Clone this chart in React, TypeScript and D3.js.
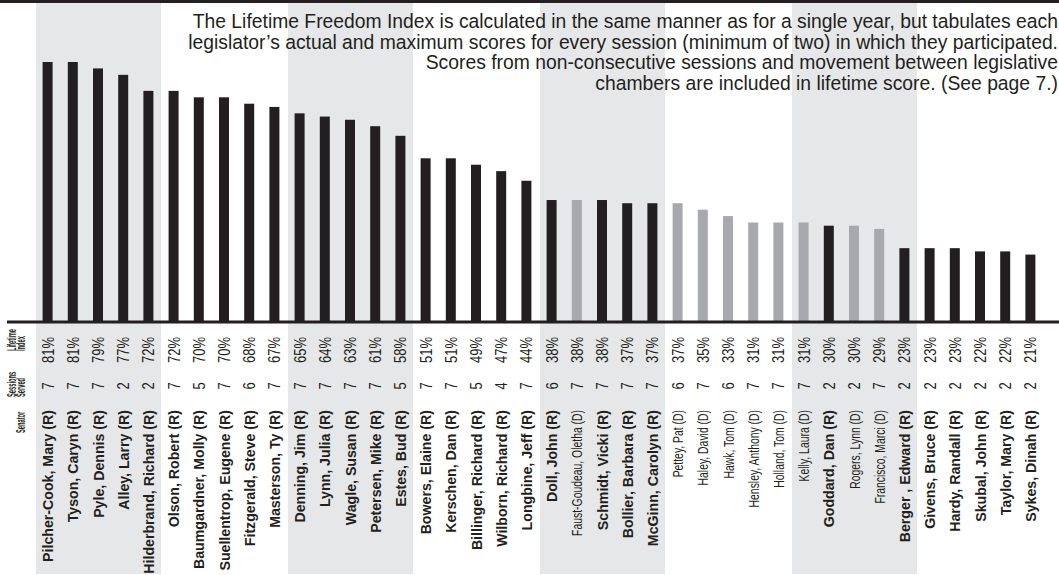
import { useEffect, useRef } from 'react'
import * as d3 from 'd3'

// senators in ranked order, as printed under the bars
const senators = [
  'Pilcher-Cook, Mary (R)', 'Tyson, Caryn (R)', 'Pyle, Dennis (R)', 'Alley, Larry (R)', 'Hilderbrand, Richard (R)',
  'Olson, Robert (R)', 'Baumgardner, Molly (R)', 'Suellentrop, Eugene (R)', 'Fitzgerald, Steve (R)', 'Masterson, Ty (R)',
  'Denning, Jim (R)', 'Lynn, Julia (R)', 'Wagle, Susan (R)', 'Petersen, Mike (R)', 'Estes, Bud (R)',
  'Bowers, Elaine (R)', 'Kerschen, Dan (R)', 'Billinger, Richard (R)', 'Wilborn, Richard (R)', 'Longbine, Jeff (R)',
  'Doll, John (R)', 'Faust-Goudeau, Oletha (D)', 'Schmidt, Vicki (R)', 'Bollier, Barbara (R)', 'McGinn, Carolyn (R)',
  'Pettey, Pat (D)', 'Haley, David (D)', 'Hawk, Tom (D)', 'Hensley, Anthony (D)', 'Holland, Tom (D)',
  'Kelly, Laura (D)', 'Goddard, Dan (R)', 'Rogers, Lynn (D)', 'Francisco, Marci (D)', 'Berger , Edward (R)',
  'Givens, Bruce (R)', 'Hardy, Randall (R)', 'Skubal, John (R)', 'Taylor, Mary (R)', 'Sykes, Dinah (R)',
]
const parties = [
  'R', 'R', 'R', 'R', 'R', 'R', 'R', 'R', 'R', 'R',
  'R', 'R', 'R', 'R', 'R', 'R', 'R', 'R', 'R', 'R',
  'R', 'D', 'R', 'R', 'R', 'D', 'D', 'D', 'D', 'D',
  'D', 'R', 'D', 'D', 'R', 'R', 'R', 'R', 'R', 'R',
]
const sessionsServed = [
  7, 7, 7, 2, 2, 7, 5, 7, 6, 7,
  7, 7, 7, 7, 5, 7, 7, 5, 4, 7,
  6, 7, 7, 7, 7, 6, 7, 6, 7, 7,
  7, 2, 2, 7, 2, 2, 2, 2, 2, 2,
]
const lifetimeIndex = [
  81, 81, 79, 77, 72, 72, 70, 70, 68, 67,
  65, 64, 63, 61, 58, 51, 51, 49, 47, 44,
  38, 38, 38, 37, 37, 37, 35, 33, 31, 31,
  31, 30, 30, 29, 23, 23, 23, 22, 22, 21,
]
const noteLines = [
  'The Lifetime Freedom Index is calculated in the same manner as for a single year, but tabulates each',
  'legislator\u2019s actual and maximum scores for every session (minimum of two) in which they participated.',
  'Scores from non-consecutive sessions and movement between legislative',
  'chambers are included in lifetime score. (See page 7.)',
]

const INK = '#231f20'
const GREY_BAR = '#a7a9ac'
const BAND = '#e6e7e8'
const FONT = "'Liberation Sans', Arial, sans-serif"

export default function App() {
  const svgRef = useRef<SVGSVGElement>(null)

  useEffect(() => {
    if (!svgRef.current) return
    const width = 1059
    const height = 575
    const baseY = 322

    const svg = d3.select(svgRef.current).attr('width', width).attr('height', height)
    svg.selectAll('*').remove()

    // no narrow face installed: measure a sample and squeeze along the text direction
    const squeeze = (sample: string, size: number, weight: string, target: number) => {
      const t = svg
        .append('text')
        .attr('font-family', FONT)
        .attr('font-size', size)
        .attr('font-weight', weight)
        .text(sample)
      const len = (t.node() as SVGTextElement).getComputedTextLength()
      t.remove()
      return len > 0 ? target / len : 0.82
    }

    const rows = senators.map((name, i) => ({
      name,
      party: parties[i],
      sessions: sessionsServed[i],
      value: lifetimeIndex[i],
    }))

    const x = d3.scaleBand<string>().domain(senators).range([35, 1043]).padding(0)
    const y = d3.scaleLinear().domain([0, 100]).range([baseY, 1])
    const step = x.step()
    const barW = 10

    // alternating shaded groups of five
    const groups = d3.range(0, rows.length, 5).filter((s) => (s / 5) % 2 === 0)
    svg
      .selectAll('.band')
      .data(groups)
      .enter()
      .append('rect')
      .attr('x', (s) => x(senators[s])! + 1)
      .attr('y', 3)
      .attr('width', step * 5 - 1)
      .attr('height', height - 4)
      .attr('fill', BAND)

    // top rule
    svg.append('rect').attr('x', 0).attr('y', 0).attr('width', width).attr('height', 3).attr('fill', INK)

    // note
    const noteK = squeeze(noteLines[0], 20.5, 'normal', 866)
    svg
      .append('text')
      .attr('transform', `translate(1058,0) scale(${noteK},1)`)
      .attr('font-family', FONT)
      .attr('font-size', 20.5)
      .attr('fill', INK)
      .attr('text-anchor', 'end')
      .selectAll('tspan')
      .data(noteLines)
      .enter()
      .append('tspan')
      .attr('x', 0)
      .attr('y', (d, i) => 28.5 + i * 20.5)
      .text((d) => d)

    // bars
    svg
      .selectAll('.bar')
      .data(rows)
      .enter()
      .append('rect')
      .attr('x', (d) => x(d.name)! + (step - barW) / 2)
      .attr('y', (d) => y(d.value))
      .attr('width', barW)
      .attr('height', (d) => baseY - y(d.value))
      .attr('fill', (d) => (d.party === 'D' ? GREY_BAR : INK))

    // baseline
    svg
      .append('line')
      .attr('x1', 7)
      .attr('x2', width)
      .attr('y1', baseY)
      .attr('y2', baseY)
      .attr('stroke', INK)
      .attr('stroke-width', 3)

    const cx = (d: { name: string }) => x(d.name)! + step / 2

    // table columns, rotated
    const table = svg.append('g').attr('font-family', FONT).attr('fill', INK)

    const numSize = 16.5
    const numK = squeeze('81%', numSize, 'normal', 26)
    table
      .selectAll('.pct')
      .data(rows)
      .enter()
      .append('text')
      .attr('transform', (d) => `translate(${cx(d) + 6},337) rotate(-90) scale(${numK},1)`)
      .attr('text-anchor', 'end')
      .attr('font-size', numSize)
      .text((d) => `${d.value}%`)

    table
      .selectAll('.ses')
      .data(rows)
      .enter()
      .append('text')
      .attr('transform', (d) => `translate(${cx(d) + 6},386) rotate(-90) scale(${numK},1)`)
      .attr('text-anchor', 'middle')
      .attr('font-size', numSize)
      .text((d) => d.sessions)

    const boldK = squeeze(senators[0], 15.5, 'bold', 152)
    const regK = squeeze(senators[21], 15.5, 'normal', 126)
    table
      .selectAll('.name')
      .data(rows)
      .enter()
      .append('text')
      .attr(
        'transform',
        (d) => `translate(${cx(d) + 5.5},410) rotate(-90) scale(${d.party === 'D' ? regK : boldK},1)`
      )
      .attr('text-anchor', 'end')
      .attr('font-size', 15.5)
      .attr('font-weight', (d) => (d.party === 'D' ? 'normal' : 'bold'))
      .text((d) => d.name)

    // column headers
    const headSize = 12
    const headK = squeeze('Lifetime', headSize, 'bold', 22)
    const headers = [
      { lines: ['Lifetime', 'Index'], y: 351 },
      { lines: ['Sessions', 'Served'], y: 397 },
      { lines: ['', 'Senator'], y: 433 },
    ]
    headers.forEach((h) => {
      h.lines.forEach((t, i) => {
        if (!t) return
        table
          .append('text')
          .attr('transform', `translate(${15.5 + i * 9.5},${h.y}) rotate(-90) scale(${headK},1)`)
          .attr('font-size', headSize)
          .attr('font-weight', 'bold')
          .text(t)
      })
    })
  }, [])

  return (
    <div style={{ position: 'absolute', left: 0, top: 0 }}>
      <svg ref={svgRef} style={{ display: 'block' }}></svg>
    </div>
  )
}
